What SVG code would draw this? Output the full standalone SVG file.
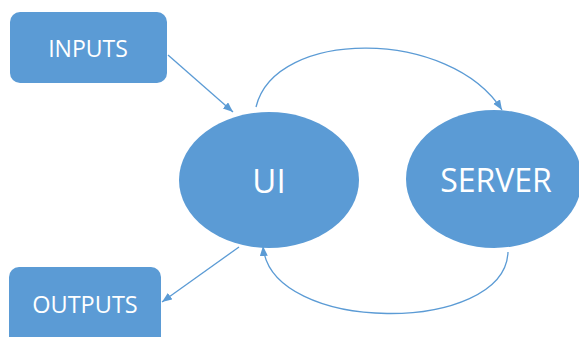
<svg xmlns="http://www.w3.org/2000/svg" width="579" height="337" viewBox="0 0 579 337">
<style>
.node{fill:#5B9BD5;}
.lbl{fill:#ffffff;font-family:"Open Sans","Liberation Sans",sans-serif;text-anchor:middle;dominant-baseline:central;}
.conn{fill:none;stroke:#5B9BD5;stroke-width:1.3;marker-end:url(#ah);}
</style>
<defs>
<marker id="ah" markerUnits="userSpaceOnUse" markerWidth="12" markerHeight="10" refX="10" refY="4" orient="auto">
<path d="M0,0 L10,4 L0,8 Z" fill="#5B9BD5"/>
</marker>
</defs>
<rect width="579" height="337" fill="#ffffff"/>
<g id="inputs">
<rect class="node" x="10" y="12" width="157" height="71" rx="10"/>
<text class="lbl" x="88" y="48" font-size="23">INPUTS</text>
</g>
<g id="outputs">
<rect class="node" x="9" y="267" width="152" height="90" rx="10"/>
<text class="lbl" x="85" y="304" font-size="23.5">OUTPUTS</text>
</g>
<g id="ui">
<ellipse class="node" cx="269" cy="180" rx="90" ry="68"/>
<text class="lbl" x="269" y="180" font-size="33">UI</text>
</g>
<g id="server">
<ellipse class="node" cx="494" cy="179" rx="88" ry="69"/>
<text class="lbl" x="496" y="179" font-size="32">SERVER</text>
</g>
<g id="connectors">
<path class="conn" d="M168,55 L233,112"/>
<path class="conn" d="M256,107 C275,28 450,28 502,110"/>
<path class="conn" d="M239,247 L162,302"/>
<path class="conn" d="M508,252 C505,335 270,335 263,246"/>
</g>
</svg>
